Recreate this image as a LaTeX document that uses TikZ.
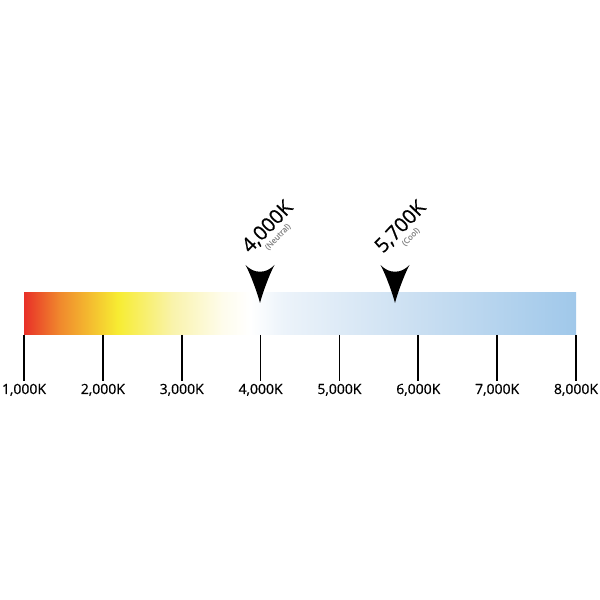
\documentclass[tikz,border=0pt]{standalone}
\usepackage{xcolor}
\usepackage{fontspec}
\setmainfont{Open Sans}[FakeBold=0.5,AutoFakeBold=0.5]
\newfontfamily\kfont{Open Sans}[FakeBold=0.5]
\usepackage{tikz}

\definecolor{kred}{RGB}{232,48,40}
\definecolor{korange}{RGB}{240,137,45}
\definecolor{kyellow}{RGB}{247,236,50}
\definecolor{kpale}{RGB}{249,243,172}
\definecolor{kcream}{RGB}{254,252,236}
\definecolor{kwhite}{RGB}{255,255,255}
\definecolor{kice}{RGB}{236,243,250}
\definecolor{ksky}{RGB}{204,224,242}
\definecolor{kblue}{RGB}{160,200,234}
\definecolor{notegrey}{RGB}{140,140,140}

\pgfdeclarehorizontalshading{kelvin}{100bp}{
    color(0bp)=(kred); color(25bp)=(kred);
    color(28.25bp)=(korange); color(33.5bp)=(kyellow);
    color(38.5bp)=(kpale); color(43bp)=(kcream);
    color(45.5bp)=(kwhite); color(48.5bp)=(kice);
    color(60bp)=(ksky); color(75bp)=(kblue); color(100bp)=(kblue)}

\tikzset{
    kpointer/.pic={
        \fill (0,0) .. controls (-2,8) and (-9,28) .. (-14.5,38)
            .. controls (-6,29) and (6,29) .. (14.5,38)
            .. controls (9,28) and (2,8) .. (0,0) -- cycle;
    }
}

\begin{document}
\begin{tikzpicture}[x=1pt, y=1pt,
        scale label/.style={font=\kfont\fontsize{14}{16}\selectfont, anchor=base, inner sep=3pt},
        temp label/.style={font=\kfont\fontsize{20}{22}\selectfont, rotate=46, anchor=base west, inner sep=0pt},
        note label/.style={font=\fontsize{8}{9}\selectfont, text=notegrey, rotate=46, anchor=north, inner sep=1.5pt},
        kticks/.style={line width=1.6pt}]
    \useasboundingbox (0,0) rectangle (600,600);

    % colour bar
    \shade[shading=kelvin] (24,265) rectangle (576,307);

    % scale
    \foreach \t [count=\i from 0] in {1,...,8} {
        \coordinate (t\t) at ({24+78.857*\i},265);
        \node (l\t) [scale label] at ({24+78.857*\i},206) {\t,000K};
        \draw[kticks] (t\t) -- (l\t.north);
    }

    % pointers
    \pic at (260,297) {kpointer};
    \pic at (395,297) {kpointer};

    \node (n4) [temp label] at (250,346) {4,000K};
    \node (n4note) [note label] at (n4.south) {(Neutral)};

    \node (n57) [temp label] at (383,346) {5,700K};
    \node (n57note) [note label] at (n57.south) {(Cool)};
\end{tikzpicture}
\end{document}
